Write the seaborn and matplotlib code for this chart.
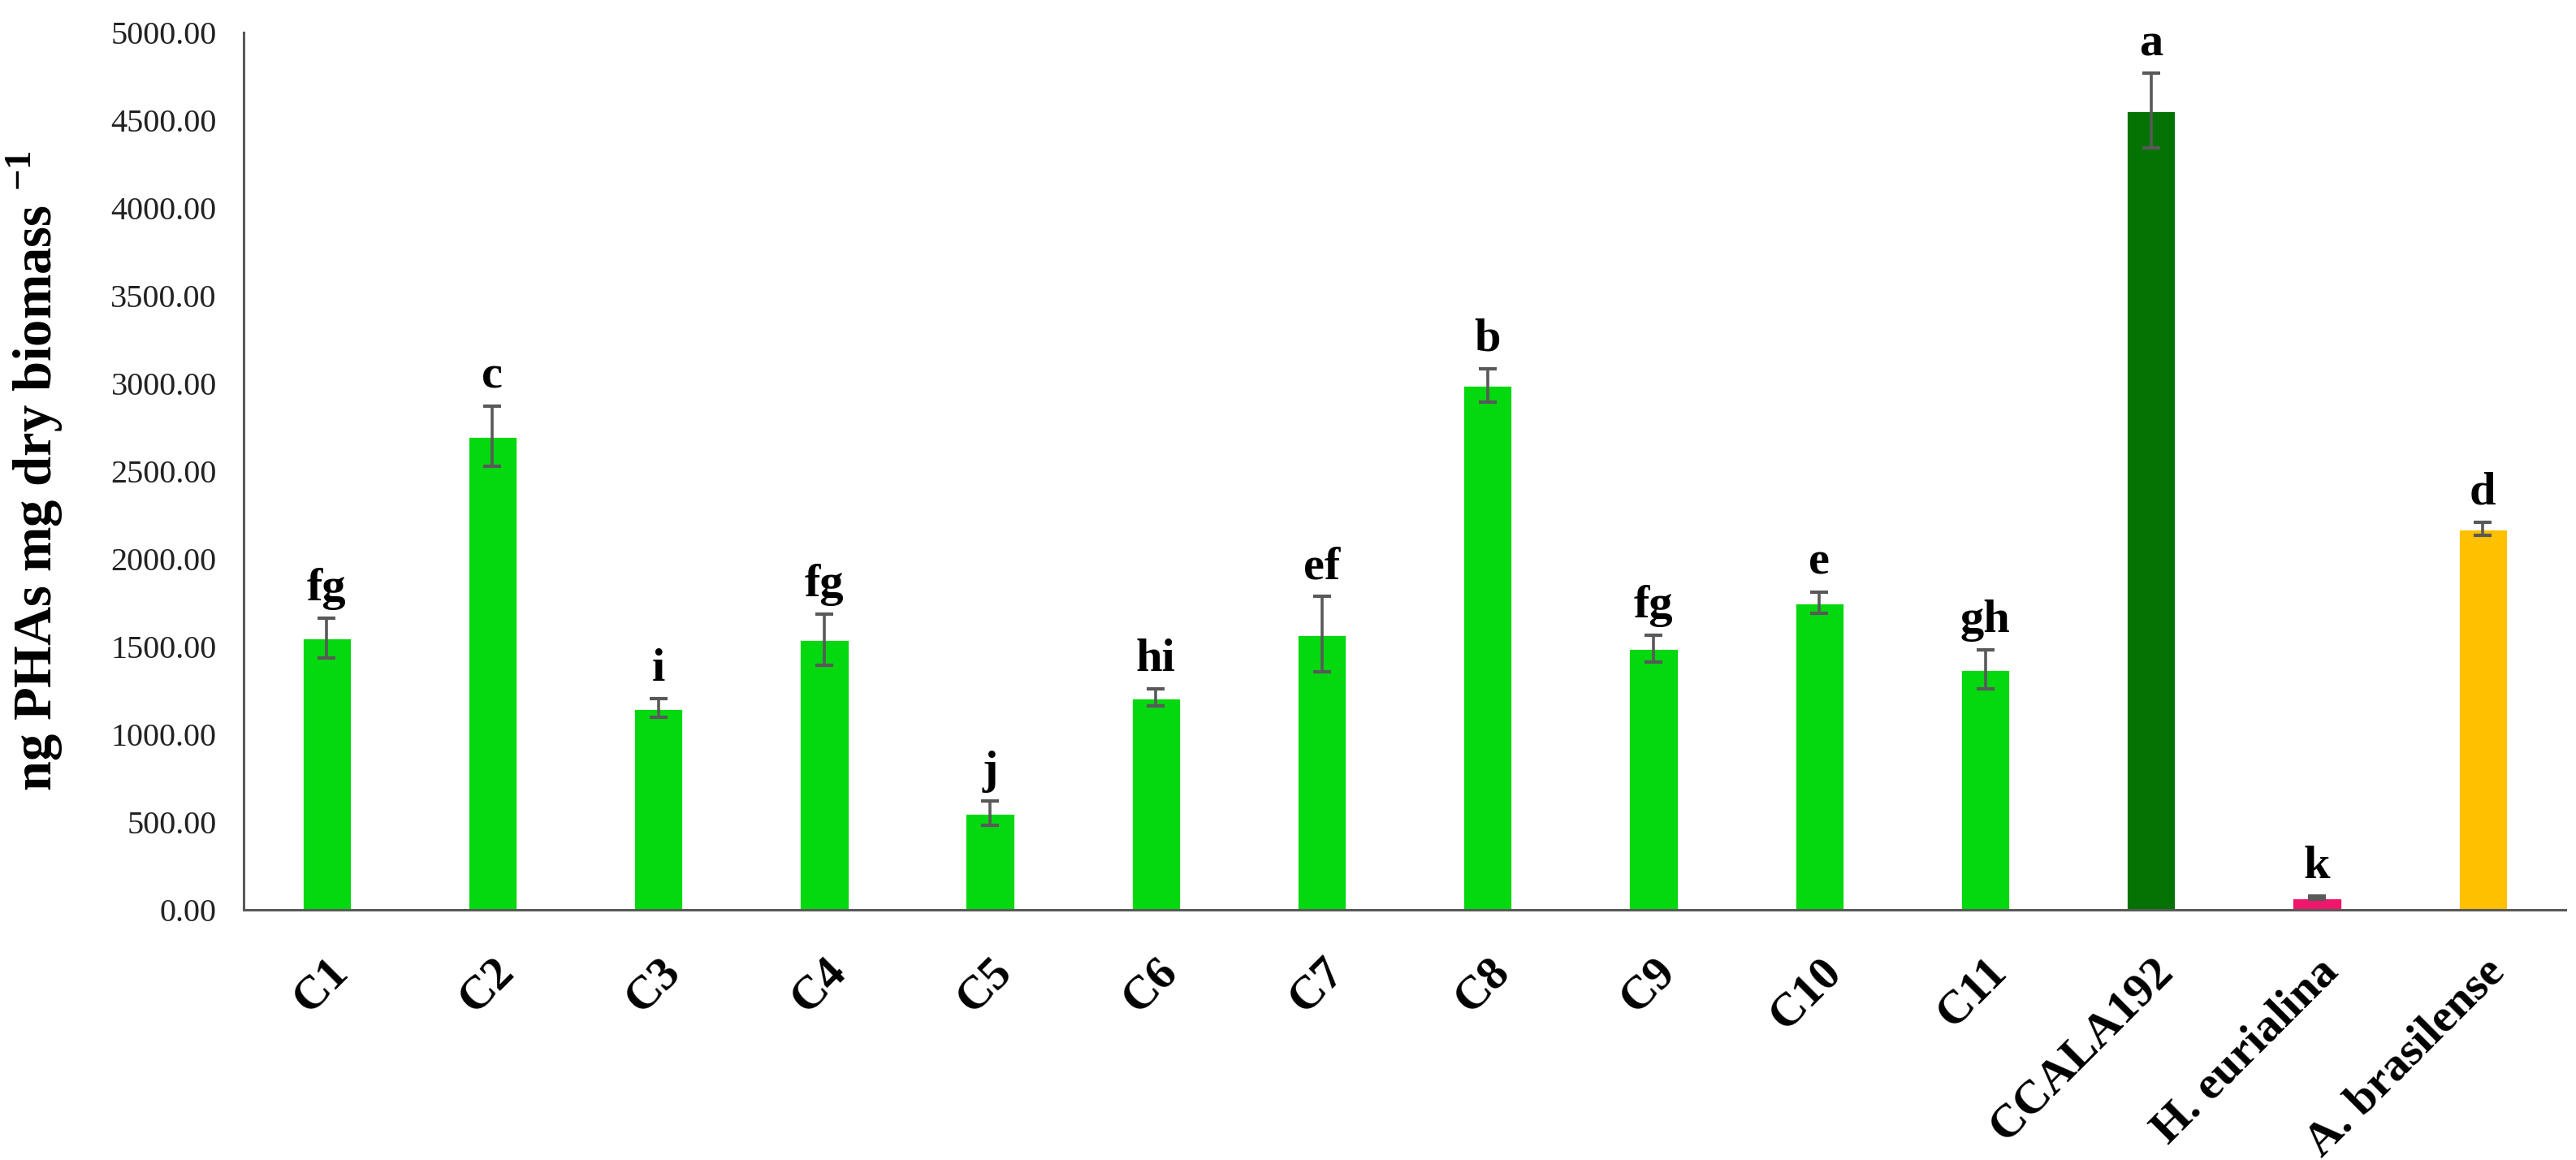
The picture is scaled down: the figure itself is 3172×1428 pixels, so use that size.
import pandas as pd
import seaborn as sns
import matplotlib.pyplot as plt

# values
strains = ['C1', 'C2', 'C3', 'C4', 'C5', 'C6', 'C7', 'C8', 'C9', 'C10', 'C11',
           'CCALA192', 'H. eurialina', 'A. brasilense']
pha = [1550, 2700, 1150, 1540, 550, 1210, 1570, 2990, 1490, 1750, 1370,
       4555, 68, 2170]
sd = [113, 170, 53, 145, 70, 47, 215, 95, 76, 60, 110, 212, 10, 38]
letters = ['fg', 'c', 'i', 'fg', 'j', 'hi', 'ef', 'b', 'fg', 'e', 'gh',
           'a', 'k', 'd']
bar_colors = ['#04D80F'] * 11 + ['#047304', '#F0166B', '#FFC000']

df = pd.DataFrame({'Strain': strains, 'PHA': pha, 'SD': sd})

sns.set_style('white')
plt.rcParams['font.family'] = ['Liberation Serif', 'DejaVu Serif']
plt.rcParams['mathtext.fontset'] = 'custom'
plt.rcParams['mathtext.rm'] = 'Liberation Serif:bold'
plt.rcParams['mathtext.bf'] = 'Liberation Serif:bold'
plt.rcParams['text.color'] = 'black'
plt.rcParams['axes.labelcolor'] = 'black'
plt.rcParams['xtick.color'] = 'black'
plt.rcParams['ytick.color'] = '#222222'

fig = plt.figure(figsize=(15.86, 7.14), dpi=200)
ax = fig.add_axes([0.0946, 0.2157, 0.9014, 0.7563])

sns.barplot(data=df, x='Strain', y='PHA', hue='Strain', order=strains,
            palette=dict(zip(strains, bar_colors)), legend=False,
            width=0.3, saturation=1, ax=ax)

ax.errorbar(range(len(strains)), pha, yerr=sd, fmt='none', ecolor='#595959',
            elinewidth=1.3, capsize=4, capthick=1.5, zorder=3)

for i, (v, e, lab) in enumerate(zip(pha, sd, letters)):
    ax.annotate(lab, xy=(i, v + e), xytext=(0, 8), textcoords='offset points',
                ha='center', va='baseline', fontsize=21, fontweight='bold')

ax.set_xlim(-0.5, len(strains) - 0.5)
ax.set_ylim(0, 5000)
ax.set_yticks(range(0, 5001, 500))
ax.set_yticklabels([f'{t:.2f}' for t in range(0, 5001, 500)], fontsize=14.5)
ax.tick_params(axis='both', length=0, pad=12)
plt.xticks(rotation=45, ha='right', rotation_mode='anchor', fontsize=21,
           fontweight='bold')
ax.tick_params(axis='x', pad=18)

ax.set_xlabel('')
ax.set_ylabel(r'ng PHAs mg dry biomass $^{-1}$', fontsize=24,
              fontweight='bold', labelpad=20)

sns.despine(ax=ax)
for side in ['left', 'bottom']:
    ax.spines[side].set_color('#595959')
    ax.spines[side].set_linewidth(1.1)

fig.savefig('out.png', dpi=200)
